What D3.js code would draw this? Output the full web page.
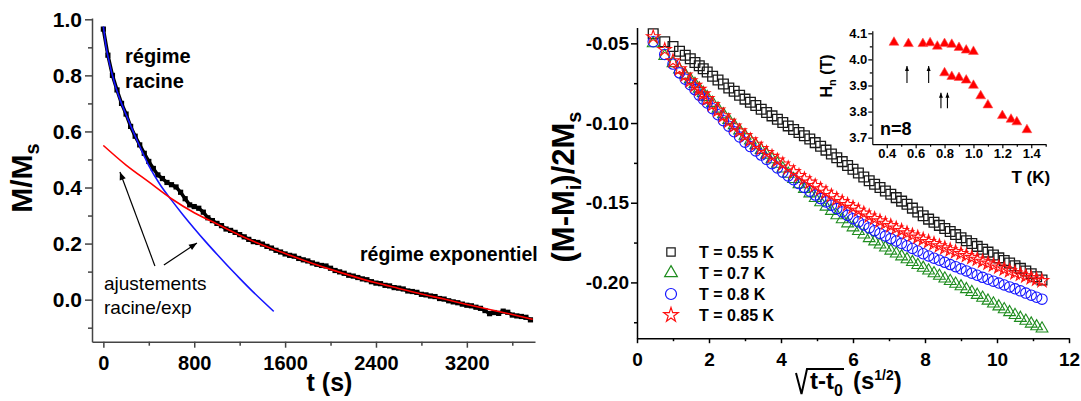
<!DOCTYPE html>
<html><head><meta charset="utf-8">
<script src="https://cdn.jsdelivr.net/npm/d3@7"></script>
<style>body{margin:0;background:#fff}</style>
</head><body><svg id="c" width="1081" height="401"></svg>
<script>
// ---------- LEFT PANEL DATA ----------
const decayT = [0,40,80,120,160,200,240,280,320,360,400,440,480,520,560,600,640,680,720,760,800,840,880,920,960,1000,1040,1080,1120,1160,1200,1240,1280,1320,1360,1400,1440,1480,1520,1560,1600,1640,1680,1720,1760,1800,1840,1880,1920,1960,2000,2040,2080,2120,2160,2200,2240,2280,2320,2360,2400,2440,2480,2520,2560,2600,2640,2680,2720,2760,2800,2840,2880,2920,2960,3000,3040,3080,3120,3160,3200,3240,3280,3320,3360,3400,3440,3480,3520,3560,3600,3640,3680,3720,3760];
const decayM = [0.965,0.872,0.80,0.748,0.70,0.662,0.618,0.583,0.552,0.522,0.493,0.468,0.445,0.432,0.418,0.41,0.402,0.383,0.36,0.338,0.332,0.326,0.312,0.292,0.282,0.272,0.264,0.252,0.247,0.24,0.232,0.224,0.215,0.207,0.204,0.198,0.19,0.184,0.176,0.17,0.163,0.158,0.155,0.147,0.142,0.138,0.131,0.126,0.122,0.12,0.112,0.104,0.099,0.094,0.087,0.084,0.079,0.074,0.071,0.064,0.059,0.057,0.051,0.049,0.043,0.041,0.038,0.031,0.029,0.026,0.019,0.017,0.013,0.011,0.004,0.002,-0.004,-0.008,-0.011,-0.016,-0.02,-0.022,-0.027,-0.031,-0.039,-0.05,-0.046,-0.049,-0.041,-0.045,-0.055,-0.058,-0.06,-0.063,-0.072];
const fitRootT = [0,25,50,100,150,200,300,400,500,600,700,800,900,1000,1100,1200,1300,1400,1500];
const fitRootM = [0.975,0.90,0.85,0.77,0.71,0.66,0.565,0.478,0.41,0.355,0.303,0.254,0.207,0.162,0.118,0.076,0.035,-0.004,-0.042];
const fitExpT = [0,200,400,600,800,1000,1200,1400,1600,1800,2000,2200,2400,2600,2800,3000,3200,3400,3600,3780];
const fitExpM = [0.55,0.48,0.42,0.36,0.31,0.27,0.23,0.195,0.165,0.135,0.108,0.083,0.06,0.04,0.02,0.002,-0.017,-0.035,-0.053,-0.07];
const leftXTicks = [0,800,1600,2400,3200];
const leftXMinor = [400,1200,2000,2800,3600];
const leftYTicks = [0.0,0.2,0.4,0.6,0.8,1.0];
const leftYMinor = [-0.1,0.1,0.3,0.5,0.7,0.9];
// annotation arrows (data coordinates): [t, M]
const annotFrom = [[454,0.12],[533,0.1236]];
const annotTo = [[146,0.4555],[824,0.202]];

// ---------- RIGHT PANEL DATA ----------
const sqrtX = [0.45,0.77,1.0,1.18,1.34,1.48,1.61,1.73,1.84,1.95,2.1,2.25,2.4,2.55,2.7,2.85,3.0,3.15,3.3,3.45,3.6,3.75,3.9,4.05,4.2,4.35,4.5,4.65,4.8,4.95,5.1,5.25,5.4,5.55,5.7,5.85,6.0,6.15,6.3,6.45,6.6,6.75,6.9,7.05,7.2,7.35,7.5,7.65,7.8,7.95,8.1,8.25,8.4,8.55,8.7,8.85,9.0,9.15,9.3,9.45,9.6,9.75,9.9,10.05,10.2,10.35,10.5,10.65,10.8,10.95,11.1,11.25];
const sT055 = [-0.044,-0.049,-0.052,-0.055,-0.0575,-0.0597,-0.062,-0.064,-0.066,-0.068,-0.0706,-0.073,-0.0755,-0.078,-0.080,-0.0826,-0.085,-0.087,-0.089,-0.0913,-0.0934,-0.0955,-0.0976,-0.0997,-0.1018,-0.104,-0.106,-0.108,-0.110,-0.1123,-0.1146,-0.117,-0.1194,-0.1218,-0.1242,-0.1266,-0.129,-0.1314,-0.1338,-0.1362,-0.1384,-0.1405,-0.1426,-0.1447,-0.1468,-0.149,-0.151,-0.1534,-0.1558,-0.1582,-0.1603,-0.1622,-0.1642,-0.1662,-0.168,-0.170,-0.172,-0.1738,-0.1756,-0.1774,-0.1792,-0.181,-0.1828,-0.1846,-0.1862,-0.1878,-0.1895,-0.1912,-0.1928,-0.1945,-0.1964,-0.1985];
const sT07 = [-0.050,-0.058,-0.0625,-0.0665,-0.0698,-0.0726,-0.0756,-0.0785,-0.0812,-0.0838,-0.0874,-0.091,-0.0946,-0.0981,-0.1014,-0.1047,-0.108,-0.111,-0.114,-0.117,-0.1199,-0.1228,-0.1256,-0.1286,-0.1319,-0.1352,-0.1385,-0.1414,-0.1442,-0.1471,-0.1498,-0.1525,-0.1552,-0.1579,-0.1604,-0.163,-0.1655,-0.1678,-0.17,-0.1723,-0.1743,-0.1763,-0.1782,-0.1801,-0.1819,-0.1837,-0.1855,-0.1873,-0.1891,-0.1909,-0.1926,-0.1943,-0.1959,-0.1976,-0.1992,-0.2009,-0.2025,-0.2043,-0.2061,-0.2079,-0.2097,-0.2115,-0.2133,-0.2151,-0.2169,-0.2187,-0.2205,-0.2223,-0.2241,-0.2259,-0.2276,-0.229];
const sT08 = [-0.049,-0.057,-0.063,-0.0685,-0.0725,-0.076,-0.079,-0.0825,-0.085,-0.0874,-0.091,-0.0948,-0.0985,-0.102,-0.1055,-0.1088,-0.112,-0.1148,-0.1175,-0.1201,-0.1228,-0.1255,-0.1282,-0.1308,-0.1332,-0.1356,-0.138,-0.1404,-0.1428,-0.1452,-0.1474,-0.1495,-0.1516,-0.1537,-0.1558,-0.1579,-0.160,-0.162,-0.1639,-0.1658,-0.1676,-0.1693,-0.1709,-0.1725,-0.174,-0.1755,-0.177,-0.1787,-0.1803,-0.182,-0.1834,-0.1848,-0.1861,-0.1874,-0.1888,-0.1901,-0.1915,-0.1928,-0.1942,-0.1955,-0.1968,-0.198,-0.1992,-0.2004,-0.2016,-0.2028,-0.204,-0.2053,-0.2067,-0.208,-0.2093,-0.2105];
const sT085 = [-0.046,-0.054,-0.061,-0.066,-0.070,-0.0736,-0.0765,-0.079,-0.0818,-0.0848,-0.0885,-0.092,-0.0955,-0.099,-0.102,-0.105,-0.108,-0.1107,-0.1134,-0.1161,-0.1186,-0.121,-0.1234,-0.1258,-0.1282,-0.1306,-0.133,-0.1351,-0.1372,-0.1393,-0.1414,-0.1435,-0.1456,-0.1476,-0.1494,-0.1512,-0.153,-0.1548,-0.1566,-0.1584,-0.160,-0.1615,-0.163,-0.1645,-0.166,-0.1675,-0.169,-0.1704,-0.1717,-0.173,-0.1744,-0.1757,-0.1771,-0.1784,-0.1796,-0.1808,-0.182,-0.1832,-0.1844,-0.1856,-0.1868,-0.188,-0.1892,-0.1904,-0.1916,-0.1928,-0.194,-0.195,-0.196,-0.1971,-0.1981,-0.199];
const seriesLabels = ["T = 0.55 K","T = 0.7 K","T = 0.8 K","T = 0.85 K"];
const rightXTicks = [0,2,4,6,8,10,12];
const rightXMinor = [1,3,5,7,9,11];
const rightYTicks = [-0.05,-0.10,-0.15,-0.20];
const rightYMinor = [-0.075,-0.125,-0.175,-0.225];

// ---------- INSET DATA ----------
const insetUpperT = [0.45,0.55,0.65,0.70,0.75,0.80,0.85,0.90,0.95,1.00];
const insetUpperH = [4.065,4.06,4.06,4.063,4.05,4.06,4.057,4.045,4.035,4.03];
const insetLowerT = [0.80,0.85,0.90,0.95,1.00,1.05,1.10,1.20,1.26,1.30,1.37];
const insetLowerH = [3.948,3.934,3.93,3.92,3.90,3.86,3.825,3.784,3.77,3.76,3.73];
const insetArrowT = [0.54,0.69,0.775,0.82];
const insetArrowH0 = [3.91,3.91,3.813,3.813];
const insetArrowH1 = [3.975,3.975,3.872,3.872];
const insetXTicks = [0.4,0.6,0.8,1.0,1.2,1.4];
const insetXMinor = [0.5,0.7,0.9,1.1,1.3,1.5];
const insetYTicks = [3.7,3.8,3.9,4.0,4.1];
const insetYMinor = [3.75,3.85,3.95,4.05];

// ---------- DRAWING ----------
const FONT = '"Liberation Sans", Arial, Helvetica, sans-serif';
const svg = d3.select("#c").attr("font-family", FONT);
const defs = svg.append("defs");
defs.append("marker").attr("id","ah").attr("viewBox","0 0 10 10").attr("refX",10).attr("refY",5)
  .attr("markerWidth",9).attr("markerHeight",8).attr("markerUnits","userSpaceOnUse").attr("orient","auto")
  .append("path").attr("d","M0,1 L10,5 L0,9 z").attr("fill","#000");
defs.append("marker").attr("id","ah2").attr("viewBox","0 0 10 10").attr("refX",10).attr("refY",5)
  .attr("markerWidth",6).attr("markerHeight",5).attr("markerUnits","userSpaceOnUse").attr("orient","auto")
  .append("path").attr("d","M0,1 L10,5 L0,9 z").attr("fill","#000");

function styleAxis(g, fs, color, sw) {
  g.attr("font-family", FONT).attr("font-size", fs).attr("font-weight","bold");
  g.select(".domain").attr("stroke", color).attr("stroke-width", sw);
  g.selectAll(".tick line").attr("stroke", color).attr("stroke-width", sw);
  g.selectAll(".tick text").attr("fill", "#000");
}
function minorAxis(axis, transform, color, sw) {
  const g = svg.append("g").attr("transform", transform).call(axis.tickFormat(() => ""));
  g.select(".domain").remove();
  g.selectAll(".tick line").attr("stroke", color).attr("stroke-width", sw);
}

// ===== Left panel =====
const xL = d3.scaleLinear().domain([-100, 3800]).range([92, 535]);
const yL = d3.scaleLinear().domain([-0.15, 1.005]).range([341.7, 17.9]);
const axCol = "#444";
minorAxis(d3.axisLeft(yL).tickValues(leftYMinor).tickSize(4), `translate(${xL(-100)},0)`, axCol, 1.5);
minorAxis(d3.axisBottom(xL).tickValues(leftXMinor).tickSize(4), `translate(0,${yL(-0.15)})`, axCol, 1.5);
svg.append("g").attr("transform", `translate(${xL(-100)},0)`)
  .call(d3.axisLeft(yL).tickValues(leftYTicks).tickFormat(d => d.toFixed(1)).tickSize(7).tickSizeOuter(0).tickPadding(3))
  .call(g => styleAxis(g, 21, axCol, 1.5));
svg.append("g").attr("transform", `translate(0,${yL(-0.15)})`)
  .call(d3.axisBottom(xL).tickValues(leftXTicks).tickFormat(d => String(d)).tickSize(6).tickSizeOuter(0).tickPadding(8))
  .call(g => styleAxis(g, 20, axCol, 1.5));

const decayPts = decayT.map((t, i) => [t, decayM[i]]);
svg.append("path").datum(decayPts)
  .attr("d", d3.line().x(d => xL(d[0])).y(d => yL(d[1])))
  .attr("fill","none").attr("stroke","#000").attr("stroke-width",3.5).attr("stroke-linejoin","round");
svg.append("g").selectAll("rect").data(decayPts).join("rect")
  .attr("x", d => xL(d[0]) - 2.6).attr("y", d => yL(d[1]) - 2.6).attr("width",5.2).attr("height",5.2)
  .attr("fill","#000");

svg.append("path").datum(fitRootT.map((t,i)=>[t, fitRootM[i]]))
  .attr("d", d3.line().x(d => xL(d[0])).y(d => yL(d[1])).curve(d3.curveMonotoneX))
  .attr("fill","none").attr("stroke","#1515ff").attr("stroke-width",1.6);
svg.append("path").datum(fitExpT.map((t,i)=>[t, fitExpM[i]]))
  .attr("d", d3.line().x(d => xL(d[0])).y(d => yL(d[1])).curve(d3.curveMonotoneX))
  .attr("fill","none").attr("stroke","#ff0000").attr("stroke-width",1.6);

annotFrom.forEach((f, i) => {
  svg.append("line").attr("x1", xL(f[0])).attr("y1", yL(f[1]))
    .attr("x2", xL(annotTo[i][0])).attr("y2", yL(annotTo[i][1]))
    .attr("stroke","#000").attr("stroke-width",1.2).attr("marker-end","url(#ah)");
});
svg.append("text").attr("x",104).attr("y",289.5).attr("font-size",19).text("ajustements");
svg.append("text").attr("x",104).attr("y",313.5).attr("font-size",19).text("racine/exp");
svg.append("text").attr("x",125).attr("y",63).attr("font-size",20).attr("font-weight","bold").text("régime");
svg.append("text").attr("x",125).attr("y",88).attr("font-size",20).attr("font-weight","bold").text("racine");
svg.append("text").attr("x",360).attr("y",261).attr("font-size",19.5).attr("font-weight","bold").text("régime exponentiel");

svg.append("text").attr("x",329.5).attr("y",391).attr("text-anchor","middle").attr("font-size",25).attr("font-weight","bold").text("t (s)");
const ylab = svg.append("text").attr("transform","translate(32,178) rotate(-90)").attr("text-anchor","middle")
  .attr("font-size",30).attr("font-weight","bold");
ylab.append("tspan").text("M/M");
ylab.append("tspan").attr("font-size",20).attr("dy",7).text("s");

// ===== Right panel =====
const xR = d3.scaleLinear().domain([0, 12]).range([637, 1069]);
const yR = d3.scaleLinear().domain([-0.235, -0.04]).range([338.2, 27.4]);
minorAxis(d3.axisLeft(yR).tickValues(rightYMinor).tickSize(3), `translate(${xR(0)},0)`, "#000", 1.5);
minorAxis(d3.axisBottom(xR).tickValues(rightXMinor).tickSize(3), `translate(0,${yR(-0.235)})`, "#000", 1.5);
svg.append("g").attr("transform", `translate(${xR(0)},0)`)
  .call(d3.axisLeft(yR).tickValues(rightYTicks).tickFormat(d => d.toFixed(2)).tickSize(6).tickSizeOuter(0).tickPadding(2))
  .call(g => styleAxis(g, 19, "#000", 1.5));
svg.append("g").attr("transform", `translate(0,${yR(-0.235)})`)
  .call(d3.axisBottom(xR).tickValues(rightXTicks).tickFormat(d => String(d)).tickSize(5).tickSizeOuter(0).tickPadding(9))
  .call(g => styleAxis(g, 19, "#000", 1.5));

const seriesDefs = [
  {vals: sT055, type: d3.symbolSquare, size: 95, color: "#1a1a1a", sw: 1.3},
  {vals: sT07, type: d3.symbolTriangle, size: 60, color: "#1e8c1e", sw: 1.1},
  {vals: sT08, type: d3.symbolCircle, size: 85, color: "#1515ff", sw: 1.1},
  {vals: sT085, type: d3.symbolStar, size: 55, color: "#ff1010", sw: 1.1}
];
seriesDefs.forEach(s => {
  svg.append("g").selectAll("path").data(sqrtX.map((x, i) => [x, s.vals[i]])).join("path")
    .attr("transform", d => `translate(${xR(d[0])},${yR(d[1])})`)
    .attr("d", d3.symbol(s.type, s.size))
    .attr("fill","none").attr("stroke", s.color).attr("stroke-width", s.sw);
});

// legend
const legY = [252, 273, 294, 315];
seriesDefs.forEach((s, i) => {
  svg.append("path").attr("transform", `translate(671,${legY[i]})`)
    .attr("d", d3.symbol(s.type, s.type === d3.symbolSquare ? 70 : s.size + 10))
    .attr("fill","none").attr("stroke", s.color).attr("stroke-width",1.2);
  svg.append("text").attr("x",699).attr("y",legY[i] + 6).attr("font-size",16).attr("font-weight","bold").text(seriesLabels[i]);
});

// right axis titles
const rylab = svg.append("text").attr("transform","translate(574,187) rotate(-90)").attr("text-anchor","middle")
  .attr("font-size",31).attr("font-weight","bold");
rylab.append("tspan").text("(M-M");
rylab.append("tspan").attr("font-size",20).attr("dy",7).text("i");
rylab.append("tspan").attr("dy",-7).text(")/2M");
rylab.append("tspan").attr("font-size",20).attr("dy",7).text("s");

const rx0 = 810, rBase = 389;
const t1 = svg.append("text").attr("x", rx0).attr("y", rBase).attr("font-size",24).attr("font-weight","bold");
t1.append("tspan").text("t-t");
t1.append("tspan").attr("font-size",16).attr("dy",7).text("0");
const w1 = t1.node().getBBox().width;
const radEnd = rx0 + w1 + 1;
svg.append("path").attr("d", `M${rx0-14},${rBase-16} L${rx0-8.5},${rBase+5} L${rx0-3},${rBase-20} L${radEnd},${rBase-20}`)
  .attr("fill","none").attr("stroke","#000").attr("stroke-width",2);
const t2 = svg.append("text").attr("x", radEnd + 9).attr("y", rBase).attr("font-size",24).attr("font-weight","bold");
t2.append("tspan").text("(s");
t2.append("tspan").attr("font-size",14).attr("dy",-9).text("1/2");
t2.append("tspan").attr("dy",9).text(")");

// ===== Inset =====
const xI = d3.scaleLinear().domain([0.3, 1.5]).range([872.3, 1045.7]);
const yI = d3.scaleLinear().domain([3.675, 4.11]).range([144.2, 30.7]);
minorAxis(d3.axisLeft(yI).tickValues(insetYMinor).tickSize(2.5), `translate(${xI(0.3)},0)`, "#000", 1.2);
minorAxis(d3.axisBottom(xI).tickValues(insetXMinor).tickSize(2.5), `translate(0,${yI(3.675)})`, "#000", 1.2);
svg.append("g").attr("transform", `translate(${xI(0.3)},0)`)
  .call(d3.axisLeft(yI).tickValues(insetYTicks).tickFormat(d => d.toFixed(1)).tickSize(4).tickSizeOuter(0).tickPadding(1))
  .call(g => styleAxis(g, 13, "#000", 1.2));
svg.append("g").attr("transform", `translate(0,${yI(3.675)})`)
  .call(d3.axisBottom(xI).tickValues(insetXTicks).tickFormat(d => d.toFixed(1)).tickSize(4).tickSizeOuter(0).tickPadding(1))
  .call(g => styleAxis(g, 13, "#000", 1.2));

const insetPts = insetUpperT.map((t,i)=>[t, insetUpperH[i]]).concat(insetLowerT.map((t,i)=>[t, insetLowerH[i]]));
svg.append("g").selectAll("path").data(insetPts).join("path")
  .attr("transform", d => `translate(${xI(d[0])},${yI(d[1])})`)
  .attr("d", d3.symbol(d3.symbolTriangle, 42))
  .attr("fill","#ff0000").attr("stroke","#ff5050").attr("stroke-width",0.6);
insetArrowT.forEach((t, i) => {
  svg.append("line").attr("x1", xI(t)).attr("x2", xI(t)).attr("y1", yI(insetArrowH0[i])).attr("y2", yI(insetArrowH1[i]))
    .attr("stroke","#000").attr("stroke-width",1.1).attr("marker-end","url(#ah2)");
});
svg.append("text").attr("x",880).attr("y",135).attr("font-size",18).attr("font-weight","bold").text("n=8");
svg.append("text").attr("x",1011.5).attr("y",183).attr("font-size",17).attr("font-weight","bold").text("T (K)");
const iylab = svg.append("text").attr("transform","translate(832,76) rotate(-90)").attr("text-anchor","middle")
  .attr("font-size",16).attr("font-weight","bold");
iylab.append("tspan").text("H");
iylab.append("tspan").attr("font-size",11).attr("dy",4).text("n");
iylab.append("tspan").attr("dy",-4).text(" (T)");
</script></body></html>
